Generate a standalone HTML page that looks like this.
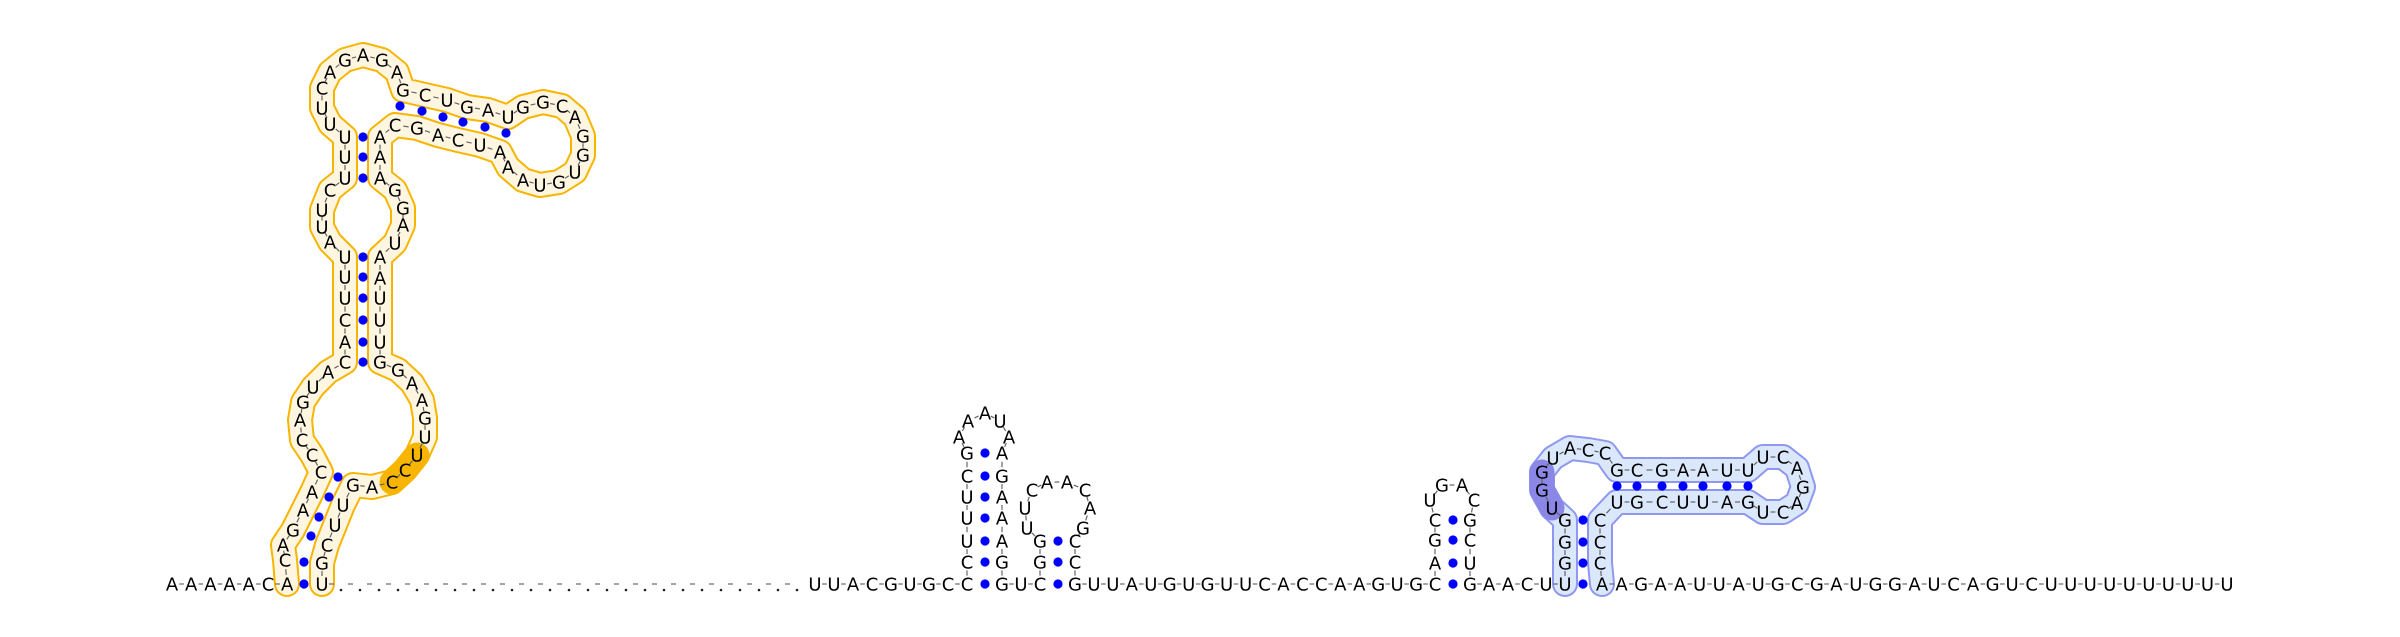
<!DOCTYPE html>
<html><head><meta charset="utf-8"><style>
html,body{margin:0;padding:0;background:#fff;}
svg{display:block;}
text{font-family:"DejaVu Sans","Liberation Sans",sans-serif;font-size:18px;fill:#000;}
</style></head><body>
<svg id="rna" width="2400" height="637" viewBox="0 0 2400 637" xmlns="http://www.w3.org/2000/svg">
<g id="bands"></g>
<g id="links"></g>
<g id="pairs"></g>
<g id="nts"></g>
</svg>
<script>
// baseline segments: sequence, start x, step
const baseSegs = [
  ["AAAAACA", 172, 19.2],
  ["U", 322, 19],
  ["UUACGUGCC", 815, 19],
  ["GUC", 1002, 19],
  ["GUUAUGUGUUCACCAAGUGC", 1075, 18.95],
  ["GAACUU", 1470, 19],
  ["AAGAAUUAUGCGAUGGAUCAGUCUUUUUUUUUU", 1602, 19.53]
];
const baseY = 584;
const gapDots = {x0: 341, step: 19, n: 25};

// orange (left) domain, 5'->3'
const orange = [["A",287,584],["C",285,560],["A",283,545],["G",293,530],["A",303,510],["A",312,492],["C",321,472],["C",312,455],["C",302,440],["A",300,420],["G",303,402],["U",313,387],["A",328,372],["C",345,362],["A",345,342],["C",345,320],["U",345,298],["U",345,277],["U",345,257],["A",330,242],["U",322,227],["U",322,210],["C",330,190],["U",345,178],["U",345,157],["U",345,137],["U",330,124],["U",322,108],["C",322,88],["A",330,72],["G",345,60],["A",363,55],["G",382,60],["A",397,72],["G",403,90],["C",425,95],["U",447,100],["G",467,107],["A",488,110],["U",508,117],["G",523,107],["G",543,102],["C",562,106],["A",575,117],["G",583,136],["G",583,155],["U",575,172],["G",559,182],["U",540,185],["A",523,180],["A",508,167],["A",500,152],["U",480,145],["C",458,140],["A",438,135],["G",417,128],["C",395,125],["A",380,137],["A",380,157],["A",380,178],["G",395,190],["G",403,208],["A",403,225],["U",395,243],["A",380,257],["A",380,278],["U",380,298],["U",380,320],["U",380,342],["G",380,362],["G",398,370],["A",412,383],["A",422,400],["G",425,418],["U",425,437],["U",417,455],["C",405,470],["C",392,482],["A",372,487],["G",353,485],["U",343,505],["U",335,525],["C",327,545],["G",322,563],["U",322,584]];
const orangeHi = [75,78];
const orangePairs = [[304,584],[304,562],[311,536],[319,517],[329,497],[338,477],[363,362],[363,342],[363,320],[363,298],[363,277],[363,257],[363,178],[363,157],[363,137],[400,106],[422,111],[443,117],[463,122],[485,127],[506,133]];

// hairpin at 967-1002
const hp1 = [["C",967,584],["C",967,562],["U",967,541],["U",967,518],["U",967,497],["C",967,476],["G",967,453],["A",959,437],["A",968,421],["A",985,413],["U",1000,421],["A",1009,437],["A",1002,453],["G",1002,476],["A",1002,497],["A",1002,518],["A",1002,541],["G",1002,562],["G",1002,584]];
const hp1Pairs = [[985,584],[985,562],[985,541],[985,518],[985,497],[985,476],[985,453]];
const hp2 = [["C",1040,584],["G",1040,562],["G",1040,541],["U",1027,528],["U",1025,508],["C",1032,490],["A",1047,482],["A",1067,482],["C",1085,490],["A",1090,508],["G",1083,528],["C",1075,541],["C",1075,562],["G",1075,584]];
const hp2Pairs = [[1058,584],[1058,562],[1058,541]];
const hp3 = [["C",1435,584],["A",1435,563],["G",1435,540],["C",1435,520],["U",1430,500],["G",1442,485],["A",1462,485],["C",1474,500],["G",1470,520],["C",1470,540],["U",1470,563],["G",1470,584]];
const hp3Pairs = [[1453,584],[1453,563],[1453,540],[1453,520]];

// blue domain
const blue = [["U",1565,584],["G",1565,563],["G",1565,542],["G",1565,520],["U",1552,508],["G",1542,490],["G",1542,472],["U",1553,458],["A",1570,448],["C",1588,450],["C",1605,453],["G",1617,470],["C",1637,470],["G",1662,470],["A",1683,470],["A",1703,470],["U",1727,470],["U",1748,470],["U",1763,457],["C",1783,457],["A",1797,468],["G",1803,487],["A",1797,503],["C",1783,512],["U",1763,512],["G",1748,502],["A",1727,502],["U",1703,502],["U",1683,502],["C",1662,502],["G",1637,502],["U",1617,502],["C",1600,520],["C",1600,542],["C",1600,563],["A",1602,584]];
const blueHi = [4,7];
const bluePairs = [[1583,584],[1583,563],[1583,542],[1583,520],[1617,486],[1637,486],[1662,486],[1683,486],[1703,486],[1727,486],[1748,486]];

const NS = "http://www.w3.org/2000/svg";
const gB = document.getElementById("bands"), gL = document.getElementById("links"), gP = document.getElementById("pairs"), gN = document.getElementById("nts");
function mk(tag, parent){ const e = document.createElementNS(NS, tag); parent.appendChild(e); return e; }
function pathOf(pts){ return pts.map((p,i)=>(i?"L":"M")+p[1]+" "+p[2]).join(" "); }
function band(pts, outer, inner, name){
  const o = mk("path", gB);
  
  
  o.setAttribute("d", pathOf(pts)); o.setAttribute("fill","none"); o.setAttribute("stroke",outer);
  o.setAttribute("stroke-width","26"); o.setAttribute("stroke-linejoin","round"); o.setAttribute("stroke-linecap","round");
  const i = mk("path", gB);
  
  
  i.setAttribute("d", pathOf(pts)); i.setAttribute("fill","none"); i.setAttribute("stroke",inner);
  i.setAttribute("stroke-width","22"); i.setAttribute("stroke-linejoin","round"); i.setAttribute("stroke-linecap","round");
}
function hilite(pts, color, name){
  const h = mk("path", gB);
  
  
  h.setAttribute("d", pathOf(pts)); h.setAttribute("fill","none"); h.setAttribute("stroke",color);
  h.setAttribute("stroke-width","25"); h.setAttribute("stroke-linejoin","round"); h.setAttribute("stroke-linecap","round");
}
function link(a,b){
  const dx=b[1]-a[1], dy=b[2]-a[2];
  const l = mk("line", gL);
  
  
  l.setAttribute("x1", a[1]+dx*0.38); l.setAttribute("y1", a[2]+dy*0.38);
  l.setAttribute("x2", a[1]+dx*0.62); l.setAttribute("y2", a[2]+dy*0.62);
  l.setAttribute("stroke","#666"); l.setAttribute("stroke-width","1.2");
}
function nt(p){
  const t = mk("text", gN);
  
  
  t.setAttribute("x", p[1]); t.setAttribute("y", p[2]+6.5); t.setAttribute("text-anchor","middle");
  t.textContent = p[0];
}
function pair(p){
  const c = mk("circle", gP);
  
  
  c.setAttribute("cx", p[0]); c.setAttribute("cy", p[1]); c.setAttribute("r", 4.6); c.setAttribute("fill","#0000ff");
}
function chain(list){ for(let i=0;i<list.length;i++){ if(i) link(list[i-1],list[i]); nt(list[i]); } }
function chainNoEnds(list){ for(let i=0;i<list.length;i++){ if(i) link(list[i-1],list[i]); if(i>0 && i<list.length-1) nt(list[i]); } }

band(orange, "#f7b500", "#fff6e2", "orange-domain");
hilite(orange.slice(orangeHi[0], orangeHi[1]), "#f7b500", "orange-highlight");
band(blue, "#8f98ee", "#dbe8fb", "blue-domain");
hilite(blue.slice(blueHi[0], blueHi[1]), "#8a87e6", "purple-highlight");

baseSegs.forEach(s=>{
  const pts = s[0].split("").map((c,i)=>[c, s[1]+i*s[2], baseY]);
  chain(pts);
});
for(let i=0;i<gapDots.n;i++){
  const d = mk("circle", gL);
  
  
  d.setAttribute("cx", gapDots.x0+i*gapDots.step); d.setAttribute("cy", baseY+6); d.setAttribute("r", 1.3); d.setAttribute("fill","#222");
  const l = mk("line", gL);
  
  
  const mx = gapDots.x0+(i-0.5)*gapDots.step;
  l.setAttribute("x1", mx-2.5); l.setAttribute("x2", mx+2.5); l.setAttribute("y1", baseY); l.setAttribute("y2", baseY);
  l.setAttribute("stroke","#666"); l.setAttribute("stroke-width","1.2");
}
chainNoEnds(orange); chainNoEnds(hp1); chainNoEnds(hp2); chainNoEnds(hp3); chainNoEnds(blue);
[orangePairs, hp1Pairs, hp2Pairs, hp3Pairs, bluePairs].forEach(a=>a.forEach(pair));
</script>
</body></html>
